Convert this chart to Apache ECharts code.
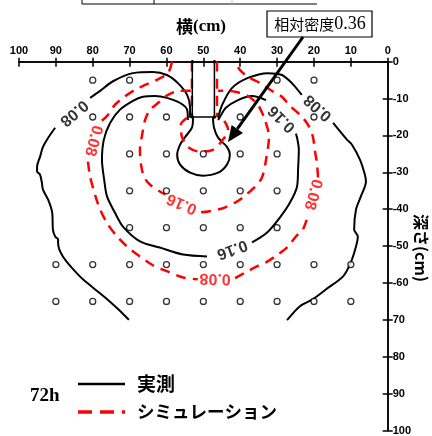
<!DOCTYPE html>
<html>
<head>
<meta charset="utf-8">
<script src="https://cdn.jsdelivr.net/npm/echarts/dist/echarts.min.js"></script>
<style>
html,body{margin:0;padding:0;background:#fff;}
#chart{width:432px;height:436px;}
</style>
</head>
<body>
<div id="chart"></div>
<script>
// Horizontal position (cm) ticks and depth ticks
const horizontalTicks = [0, 10, 20, 30, 40, 50, 60, 70, 80, 90, 100];
const depthTickLabels = ['0', '-10', '-20', '-30', '-40', '-50', '-60', '70', '80', '90', '100'];

// Measurement points: depth rows and the horizontal positions sampled on each row
const sampleDepths = [5, 15, 25, 35, 45, 55, 65];
const sampleColumns = [
  [80, 70, 30, 20],
  [80, 70, 60, 40, 20],
  [70, 60, 50, 40, 30],
  [70, 60, 50, 40, 30],
  [70, 60, 50, 40, 30],
  [90, 80, 70, 60, 50, 40, 30, 20, 10],
  [90, 80, 70, 60, 50, 40, 30, 20, 10]
];

// Pile shaft and compacted bulb (measured)
const shaftOutline = [[53, 0], [53, 15], [47, 15], [47, 0]];
const measuredBulb = [[52.8, 15.2], [53.1, 17.9], [55.0, 20.5], [56.3, 22.5], [57.1, 25.2], [56.3, 27.9], [53.6, 30.1], [50.1, 30.9], [46.0, 30.1], [43.6, 27.9], [42.8, 25.2], [43.6, 23.1], [46.0, 20.6], [47.1, 17.9], [47.4, 15.2]];

// Measured contour 0.08
const measured008LeftLow = [[70.2, 70.0], [73.0, 67.2], [76.1, 64.4], [80.0, 61.2], [83.5, 58.2], [88.1, 52.8], [89.4, 49.0], [89.4, 48.2], [90.2, 47.4], [90.8, 45.5], [91.0, 40.9], [92.1, 37.4], [93.5, 34.7], [93.8, 32.8], [94.3, 30.6], [95.1, 29.8], [95.1, 28.5], [94.3, 25.8], [93.5, 23.1], [92.0, 20.5], [90.2, 17.9]];
const measured008LeftHigh = [[80.7, 9.8], [78.0, 7.9], [74.5, 5.3], [69.1, 3.1], [63.7, 2.8], [59.9, 3.6], [56.9, 5.8], [54.4, 9.0], [53.6, 12.5], [53.6, 15.2]];
const measured008RightHigh = [[46.0, 15.2], [44.9, 11.7], [42.2, 7.1], [37.9, 4.4], [32.5, 3.1], [28.7, 3.6], [26.0, 5.8], [23.3, 9.0]];
const measured008RightLow = [[14.8, 16.6], [11.0, 21.2], [9.7, 22.5], [7.5, 26.6], [6.2, 30.6], [5.9, 32.5], [7.3, 36.6], [8.6, 40.1], [9.1, 45.5], [8.1, 47.4], [8.6, 50.1], [10.0, 54.4], [12.1, 58.2], [16.7, 61.7], [20.3, 64.4], [23.8, 66.3], [27.3, 70.1]];

// Measured contour 0.16
const measured016Left = [[54.2, 15.8], [54.4, 13.0], [56.3, 11.2], [59.9, 9.8], [63.1, 9.3], [66.4, 9.5], [69.1, 10.6], [72.6, 13.0], [75.3, 16.6], [77.0, 21.2], [77.5, 26.6], [76.9, 32.0], [76.1, 36.6], [74.0, 40.9], [71.8, 44.7], [67.2, 48.7], [61.8, 50.4], [55.5, 52.3], [49.0, 52.8]];
const measured016Right = [[36.8, 49.0], [32.7, 46.3], [29.2, 42.2], [26.5, 38.2], [24.6, 33.9], [24.3, 29.0], [24.1, 23.9], [24.5, 21.0], [24.9, 19.5]];
const measured016Top = [[33.0, 10.4], [36.8, 9.3], [40.6, 10.4], [43.9, 12.5], [45.5, 15.0], [46.0, 15.8]];

// Simulated contour 0.08
const simulated008Left = [[58.5, 0], [59.6, 3.1], [62.6, 4.9], [65.8, 6.3], [68.5, 7.6], [71.8, 9.8], [74.0, 11.7], [76.1, 14.7], [77.8, 16.2]];
const simulated008Bottom = [[81.3, 27.1], [80.7, 31.2], [79.4, 36.0], [78.0, 40.1], [75.9, 44.1], [73.4, 47.4], [70.4, 50.4], [67.2, 52.8], [63.7, 55.2], [59.9, 56.8], [55.5, 58.5], [51.5, 59.0]];
const simulated008Right = [[41.4, 58.7], [37.9, 56.8], [35.5, 55.5], [33.0, 54.4], [29.8, 52.3], [27.0, 50.1], [24.9, 47.4], [23.0, 45.5], [21.5, 41.2]];
const simulated008Top = [[18.9, 31.4], [19.2, 27.4], [19.7, 24.4], [20.3, 20.3], [21.6, 17.1], [23.8, 14.4], [26.5, 12.0], [28.7, 9.5], [31.9, 7.6], [34.6, 5.8], [37.9, 4.1], [40.1, 2.2], [41.4, 0]];

// Simulated contour 0.16
const simulated016Left = [[53.4, 7.9], [56.3, 7.9], [59.6, 9.0], [62.3, 11.2], [64.5, 13.1], [65.8, 15.8], [66.6, 19.8], [67.2, 23.9], [66.9, 27.9], [66.1, 31.2], [64.5, 33.3], [61.8, 35.2], [60.3, 36.0]];
const simulated016Right = [[50.6, 40.8], [48.7, 40.6], [44.9, 39.8], [41.4, 38.2], [39.3, 36.8], [36.0, 33.9], [34.1, 31.4], [33.0, 26.6], [32.2, 20.4], [33.3, 15.8], [35.2, 11.7], [37.9, 9.3], [41.1, 8.2], [43.3, 7.9], [46.0, 7.9]];

// Simulated dense zone under the shaft and along its sides
const simulatedCore = [[54.4, 15.2], [56.1, 17.1], [55.8, 20.4], [54.2, 23.1], [50.9, 24.4], [47.4, 23.9], [44.9, 21.4], [43.3, 18.5], [44.4, 16.0], [45.8, 15.0]];
const simulatedShaftLeft = [[53.1, 0], [53.1, 15]];
const simulatedShaftRight = [[46.3, 0], [46.3, 15]];

// Contour labels: [x, depth, text, angle]
const measuredLabels = [[85.1, 13.9, '0.08', 220], [18.9, 12.5, '0.08', 138], [28.7, 15.5, '0.16', 135], [42.2, 50.9, '0.16', 200]];
const simulatedLabels = [[79.9, 21.4, '0.08', 255], [20.3, 36.0, '0.08', 255], [55.8, 38.5, '0.16', 157], [46.8, 58.8, '0.08', 179]];

const BLACK = '#000000';
const RED = '#ff0000';

const samplePoints = [];
sampleDepths.forEach((d, i) => sampleColumns[i].forEach(x => samplePoints.push([x, d])));

const series = [];
function addLine(data, color, width, dashed, z) {
  series.push({
    type: 'line', data: data, symbol: 'none', smooth: 0.3, silent: true, z: z,
    lineStyle: { color: color, width: width, type: dashed ? [10, 7] : 'solid' }
  });
}
// shaft-side simulated lines sit beneath the shaft outline
[simulatedShaftLeft, simulatedShaftRight].forEach(d => addLine(d, RED, 2.5, true, 2));

[measured008LeftLow, measured008LeftHigh, measured008RightHigh, measured008RightLow,
 measured016Left, measured016Right, measured016Top, measuredBulb].forEach(d => addLine(d, BLACK, 2, false, 3));

series.push({
  type: 'line', data: shaftOutline, smooth: false, silent: true, z: 3,
  symbol: 'circle', symbolSize: 3.5, itemStyle: { color: BLACK },
  lineStyle: { color: BLACK, width: 1.5 }
});

[simulated008Left, simulated008Bottom, simulated008Right, simulated008Top,
 simulated016Left, simulated016Right, simulatedCore].forEach(d => addLine(d, RED, 2.5, true, 4));

series.push({
  type: 'scatter', data: samplePoints, symbol: 'circle', symbolSize: 6, silent: true, z: 5,
  itemStyle: { color: '#ffffff', borderColor: BLACK, borderWidth: 1.3 }
});

function labelItems(list, color) {
  return list.map(l => ({
    value: [l[0], l[1]],
    label: { formatter: l[2], rotate: l[3], color: color }
  }));
}
series.push({
  type: 'scatter', silent: true, z: 6, symbol: 'circle', symbolSize: 1,
  itemStyle: { color: 'rgba(0,0,0,0)' },
  data: labelItems(measuredLabels, BLACK).concat(labelItems(simulatedLabels, RED)),
  label: {
    show: true, position: 'inside', fontFamily: 'Liberation Sans, Arial, sans-serif',
    fontWeight: 'bold', fontSize: 16, align: 'center', verticalAlign: 'middle'
  }
});

const axisLine = { show: true, lineStyle: { color: BLACK, width: 1.5 } };
const tickFont = { fontFamily: 'Liberation Sans, Arial, sans-serif', fontWeight: 'bold', fontSize: 11, color: BLACK };

// Arrow geometry for the annotation
const arrowStart = [303, 37];
const arrowTip = [228, 142];
const adx = arrowTip[0] - arrowStart[0], ady = arrowTip[1] - arrowStart[1];
const alen = Math.hypot(adx, ady);
const ux = adx / alen, uy = ady / alen;
const baseX = arrowTip[0] - 16 * ux, baseY = arrowTip[1] - 16 * uy;
const px = -uy * 7, py = ux * 7;

const graphic = [
  { type: 'line', shape: { x1: 82, y1: 4, x2: 317, y2: 4 }, style: { stroke: BLACK, lineWidth: 1 } },
  { type: 'line', shape: { x1: 82, y1: 0, x2: 82, y2: 4 }, style: { stroke: BLACK, lineWidth: 1 } },
  { type: 'line', shape: { x1: 154, y1: 0, x2: 154, y2: 4 }, style: { stroke: BLACK, lineWidth: 1 } },
  { type: 'line', shape: { x1: 232, y1: 0, x2: 232, y2: 4 }, style: { stroke: '#bbbbbb', lineWidth: 1 } },
  {
    type: 'text', x: 201, y: 27, z: 100,
    style: {
      text: '{a|横}{b|(cm)}', align: 'center', verticalAlign: 'middle',
      rich: {
        a: { fontFamily: 'Noto Sans CJK JP', fontWeight: 'bold', fontSize: 17, fill: BLACK },
        b: { fontFamily: 'Liberation Serif, Times New Roman, serif', fontWeight: 'bold', fontSize: 17, fill: BLACK }
      }
    }
  },
  { type: 'rect', z: 100, shape: { x: 267, y: 11, width: 105, height: 26 }, style: { fill: '#ffffff', stroke: BLACK, lineWidth: 1.2 } },
  {
    type: 'text', x: 320, y: 24.5, z: 101,
    style: {
      text: '{a|相対密度}{b|0.36}', align: 'center', verticalAlign: 'middle',
      rich: {
        a: { fontFamily: 'Noto Sans CJK JP', fontSize: 15, fill: BLACK },
        b: { fontFamily: 'Liberation Serif, Times New Roman, serif', fontSize: 18, fill: BLACK }
      }
    }
  },
  { type: 'line', z: 100, shape: { x1: arrowStart[0], y1: arrowStart[1], x2: baseX, y2: baseY }, style: { stroke: BLACK, lineWidth: 3 } },
  { type: 'polygon', z: 100, shape: { points: [arrowTip, [baseX + px, baseY + py], [baseX - px, baseY - py]] }, style: { fill: BLACK } },
  {
    type: 'text', x: 421, y: 248, rotation: -Math.PI / 2, z: 100,
    style: { text: '深さ(cm)', fontFamily: 'Noto Sans CJK JP', fontWeight: 'bold', fontSize: 16, fill: BLACK, align: 'center', verticalAlign: 'middle' }
  },
  {
    type: 'text', x: 30, y: 396, z: 100,
    style: { text: '72h', fontFamily: 'Liberation Serif, Times New Roman, serif', fontWeight: 'bold', fontSize: 19, fill: BLACK, align: 'left', verticalAlign: 'middle' }
  },
  { type: 'line', z: 100, shape: { x1: 78, y1: 384, x2: 125, y2: 384 }, style: { stroke: BLACK, lineWidth: 2.5 } },
  { type: 'line', z: 100, shape: { x1: 78, y1: 412, x2: 125, y2: 412 }, style: { stroke: RED, lineWidth: 3.5, lineDash: [14, 8] } },
  {
    type: 'text', x: 137, y: 384, z: 100,
    style: { text: '実測', fontFamily: 'Noto Sans CJK JP', fontWeight: 'bold', fontSize: 19, fill: BLACK, align: 'left', verticalAlign: 'middle' }
  },
  {
    type: 'text', x: 137, y: 411, z: 100,
    style: { text: 'シミュレーション', fontFamily: 'Noto Sans CJK JP', fontWeight: 'bold', fontSize: 17.5, fill: BLACK, align: 'left', verticalAlign: 'middle' }
  }
];

const chart = echarts.init(document.getElementById('chart'), null, { renderer: 'canvas' });
chart.setOption({
  animation: false,
  backgroundColor: '#ffffff',
  grid: { left: 19, top: 61.7, width: 368.7, height: 370, containLabel: false },
  xAxis: [
    {
      type: 'value', position: 'top', inverse: true, min: 0, max: 100, interval: 10,
      axisLine: axisLine, splitLine: { show: false },
      axisTick: { show: true, length: 4, lineStyle: { color: BLACK, width: 1.5 } },
      axisLabel: Object.assign({ margin: 5, formatter: v => String(horizontalTicks[Math.round(v / 10)]) }, tickFont)
    },
    {
      type: 'value', position: 'bottom', inverse: true, min: 0, max: 100, interval: 10,
      axisLine: axisLine, splitLine: { show: false },
      axisTick: { show: true, length: 5, lineStyle: { color: BLACK, width: 1.5 } },
      axisLabel: { show: false }
    }
  ],
  yAxis: [
    {
      type: 'value', position: 'right', inverse: true, min: 0, max: 100, interval: 10,
      axisLine: axisLine, splitLine: { show: false },
      axisTick: { show: true, length: 5, lineStyle: { color: BLACK, width: 1.5 } },
      axisLabel: Object.assign({ margin: 5, formatter: v => depthTickLabels[Math.round(v / 10)] }, tickFont)
    },
    {
      type: 'value', position: 'left', inverse: true, min: 0, max: 100, interval: 10,
      axisLine: axisLine, splitLine: { show: false },
      axisTick: { show: true, length: 5, lineStyle: { color: BLACK, width: 1.5 } },
      axisLabel: { show: false }
    }
  ],
  series: series,
  graphic: graphic
});
</script>
</body>
</html>
